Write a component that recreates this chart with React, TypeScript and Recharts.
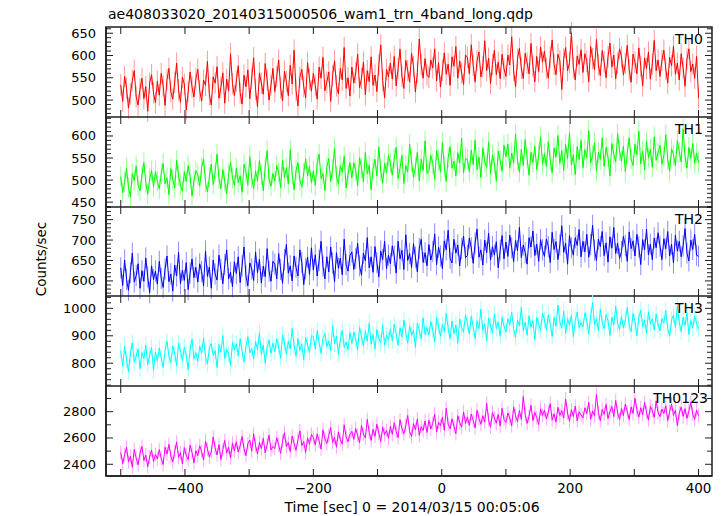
import React from 'react';
import { LineChart, Line, XAxis, YAxis, ErrorBar } from 'recharts';

// light curves, one bin every 3 s starting at t = -500 s
const TIME_START = -500;
const TIME_STEP = 3;

const TH0 = [
  534, 497, 553, 527, 482, 514, 544, 566, 507, 489, 525, 549, 503, 530, 475, 538, 557, 516, 494, 542,
  511, 560, 532, 488, 546, 571, 519, 502, 540, 583, 523, 495, 551, 536, 478, 518, 563, 529, 507, 548,
  569, 521, 498, 545, 533, 587, 512, 489, 552, 538, 575, 504, 529, 561, 493, 547, 520, 604, 537, 510,
  542, 577, 516, 491, 556, 530, 568, 503, 549, 595, 524, 485, 561, 538, 513, 582, 546, 500, 533, 571,
  519, 553, 590, 527, 498, 565, 541, 510, 578, 536, 612, 522, 487, 551, 569, 530, 505, 584, 547, 520,
  560, 533, 502, 574, 549, 596, 521, 540, 563, 497, 555, 588, 532, 514, 571, 545, 618, 526, 550, 509,
  574, 538, 561, 603, 527, 549, 585, 512, 566, 541, 597, 533, 556, 519, 578, 624, 544, 505, 569, 552,
  583, 547, 598, 532, 571, 614, 553, 526, 589, 566, 540, 605, 575, 518, 562, 637, 579, 549, 593, 556,
  551, 590, 572, 615, 543, 584, 529, 567, 606, 558, 581, 533, 597, 576, 620, 549, 588, 561, 535, 601,
  596, 559, 624, 578, 541, 589, 608, 552, 575, 633, 566, 594, 537, 580, 612, 557, 585, 548, 603, 570,
  553, 601, 579, 642, 567, 530, 592, 616, 571, 548, 605, 583, 559, 627, 576, 541, 598, 564, 619, 585,
  610, 571, 549, 596, 635, 580, 557, 603, 588, 524, 592, 618, 566, 584, 651, 573, 545, 599, 580, 613,
  562, 604, 587, 541, 620, 593, 568, 636, 579, 555, 611, 586, 550, 597, 628, 574, 601, 548, 583, 615,
  597, 556, 582, 623, 568, 540, 603, 585, 559, 617, 576, 532, 594, 571, 608, 547, 581, 634, 566, 590,
  553, 589, 612, 570, 538, 596, 577, 621, 558, 583, 545, 604, 572, 531, 592, 615, 564, 581, 549, 598,
  505,
];

const TH1 = [
  508, 471, 496, 527, 483, 462, 515, 499, 532, 487, 476, 511, 540, 494, 468, 503, 522, 485, 519, 497,
  480, 514, 538, 492, 505, 467, 526, 501, 482, 545, 510, 489, 475, 519, 497, 533, 508, 464, 498, 521,
  512, 486, 529, 548, 495, 473, 507, 536, 490, 518, 559, 502, 481, 524, 497, 469, 513, 541, 505, 488,
  527, 494, 510, 472, 536, 518, 489, 553, 505, 480, 521, 499, 544, 512, 476, 530, 567, 501, 486, 515,
  498, 533, 517, 482, 545, 506, 528, 491, 569, 513, 478, 522, 539, 500, 484, 516, 548, 509, 531, 494,
  521, 488, 537, 559, 503, 515, 476, 530, 549, 497, 524, 572, 508, 490, 533, 518, 554, 482, 512, 540,
  505, 539, 522, 487, 551, 528, 496, 563, 514, 534, 478, 526, 547, 509, 575, 521, 493, 538, 517, 556,
  538, 511, 549, 574, 503, 527, 556, 492, 533, 518, 581, 541, 506, 529, 563, 498, 547, 522, 589, 515,
  521, 556, 537, 502, 568, 544, 518, 585, 530, 497, 551, 576, 527, 543, 509, 562, 538, 595, 516, 549,
  547, 519, 568, 535, 591, 524, 552, 506, 573, 541, 529, 587, 514, 557, 538, 498, 566, 545, 520, 579,
  553, 582, 527, 561, 539, 604, 546, 518, 570, 533, 592, 549, 511, 563, 540, 576, 524, 557, 598, 536,
  560, 531, 587, 545, 516, 573, 552, 601, 538, 567, 522, 581, 549, 607, 534, 558, 512, 576, 547, 590,
  528, 569, 551, 612, 539, 556, 585, 520, 563, 547, 596, 531, 574, 552, 509, 583, 558, 541, 605, 566,
  543, 577, 519, 561, 596, 548, 533, 582, 557, 611, 537, 566, 524, 588, 551, 570, 529, 598, 545, 562,
  579, 536, 555, 603, 547, 520, 571, 558, 532, 590, 564, 541, 616, 553, 527, 574, 549, 583, 538, 561,
  540,
];

const TH2 = [
  632, 589, 651, 604, 577, 620, 668, 597, 613, 642, 582, 625, 599, 656, 610, 571, 637, 603, 624, 592,
  648, 606, 584, 629, 661, 598, 617, 575, 639, 612, 670, 593, 626, 601, 645, 579, 619, 654, 608, 633,
  597, 642, 623, 588, 673, 611, 634, 582, 651, 617, 602, 663, 628, 593, 640, 676, 605, 621, 586, 647,
  618, 659, 596, 637, 683, 612, 588, 644, 629, 601, 671, 620, 653, 595, 636, 610, 679, 624, 599, 648,
  641, 605, 667, 628, 594, 652, 689, 619, 637, 600, 661, 633, 612, 676, 645, 591, 630, 658, 616, 681,
  627, 664, 612, 650, 697, 636, 605, 659, 622, 683, 644, 598, 669, 631, 656, 615, 702, 640, 624, 662,
  671, 628, 655, 692, 637, 614, 668, 649, 706, 632, 659, 621, 684, 645, 610, 673, 652, 697, 630, 663,
  642, 686, 661, 619, 697, 654, 675, 628, 713, 650, 667, 633, 691, 658, 622, 680, 702, 645, 669, 637,
  689, 651, 672, 715, 640, 683, 661, 630, 698, 676, 724, 655, 644, 702, 668, 688, 637, 679, 710, 657,
  662, 705, 681, 643, 693, 727, 658, 676, 639, 700, 669, 717, 651, 684, 663, 696, 632, 675, 711, 654,
  695, 660, 712, 681, 647, 699, 674, 731, 657, 688, 669, 641, 706, 683, 722, 662, 690, 648, 701, 676,
  660, 703, 684, 645, 719, 677, 696, 652, 688, 735, 670, 692, 641, 711, 681, 663, 706, 687, 726, 659,
  697, 671, 714, 658, 689, 736, 675, 650, 702, 684, 721, 662, 693, 646, 708, 680, 731, 667, 692, 655,
  672, 709, 686, 648, 720, 679, 698, 661, 714, 683, 640, 701, 676, 727, 664, 690, 652, 705, 681, 718,
  685, 652, 703, 679, 721, 661, 690, 644, 712, 673, 697, 659, 686, 728, 668, 649, 700, 677, 714, 663,
  660,
];

const TH3 = [
  845, 788, 861, 812, 769, 833, 874, 803, 826, 852, 780, 839, 817, 866, 795, 828, 857, 774, 841, 809,
  856, 819, 784, 847, 880, 826, 801, 862, 835, 791, 873, 844, 810, 858, 829, 777, 851, 888, 816, 839,
  807, 862, 838, 893, 821, 797, 855, 872, 829, 846, 784, 868, 840, 901, 817, 852, 833, 792, 876, 849,
  871, 826, 889, 843, 805, 862, 897, 838, 854, 815, 880, 849, 912, 831, 866, 800, 859, 885, 836, 873,
  842, 889, 859, 818, 904, 874, 833, 881, 852, 927, 863, 826, 890, 847, 871, 812, 895, 866, 839, 901,
  897, 853, 918, 874, 836, 891, 909, 860, 882, 845, 935, 871, 899, 832, 886, 920, 858, 877, 849, 912,
  872, 914, 887, 849, 931, 896, 862, 918, 880, 946, 869, 905, 851, 923, 890, 874, 938, 866, 903, 884,
  925, 881, 943, 907, 866, 929, 895, 958, 912, 873, 936, 901, 920, 858, 947, 918, 889, 965, 905, 930,
  903, 952, 921, 879, 966, 934, 898, 941, 915, 982, 927, 889, 954, 908, 940, 872, 961, 930, 913, 975,
  948, 906, 971, 933, 889, 955, 927, 997, 919, 942, 881, 964, 937, 910, 979, 926, 951, 898, 968, 935,
  914, 962, 940, 987, 925, 893, 957, 936, 1004, 918, 949, 902, 973, 931, 955, 887, 966, 942, 920, 983,
  958, 921, 976, 944, 897, 967, 935, 1012, 951, 928, 990, 909, 962, 939, 974, 896, 955, 986, 930, 948,
  932, 984, 953, 908, 971, 1021, 940, 962, 919, 997, 948, 926, 977, 955, 901, 968, 939, 1008, 945, 923,
  971, 928, 959, 1003, 937, 915, 982, 951, 899, 966, 993, 934, 957, 910, 988, 944, 962, 921, 979, 940,
  918, 963, 947, 992, 926, 899, 958, 975, 931, 1010, 949, 915, 967, 938, 984, 905, 956, 929, 972, 944,
  925,
];

const TH0123 = [
  2490, 2405, 2472, 2530, 2418, 2461, 2378, 2512, 2447, 2396, 2485, 2536, 2429, 2470, 2382, 2455, 2508, 2421, 2476, 2440,
  2512, 2445, 2398, 2530, 2478, 2551, 2463, 2417, 2496, 2570, 2452, 2488, 2404, 2527, 2469, 2435, 2545, 2490, 2411, 2503,
  2466, 2540, 2498, 2432, 2575, 2517, 2455, 2493, 2608, 2524, 2471, 2550, 2436, 2512, 2581, 2485, 2530, 2448, 2562, 2501,
  2571, 2493, 2540, 2612, 2518, 2466, 2557, 2585, 2499, 2632, 2543, 2478, 2566, 2520, 2598, 2487, 2550, 2621, 2509, 2536,
  2520, 2602, 2548, 2483, 2577, 2640, 2535, 2566, 2497, 2615, 2559, 2506, 2588, 2654, 2541, 2573, 2490, 2601, 2552, 2628,
  2603, 2547, 2631, 2575, 2516, 2662, 2595, 2558, 2619, 2680, 2566, 2604, 2530, 2646, 2588, 2554, 2700, 2611, 2572, 2627,
  2650, 2589, 2672, 2618, 2564, 2697, 2630, 2601, 2741, 2643, 2581, 2666, 2612, 2705, 2637, 2574, 2683, 2625, 2659, 2598,
  2688, 2627, 2716, 2650, 2603, 2738, 2671, 2632, 2694, 2772, 2648, 2611, 2709, 2663, 2745, 2620, 2686, 2657, 2729, 2641,
  2735, 2668, 2712, 2781, 2645, 2720, 2693, 2758, 2659, 2826, 2704, 2671, 2745, 2690, 2633, 2769, 2716, 2682, 2798, 2710,
  2760, 2695, 2782, 2733, 2676, 2811, 2747, 2704, 2769, 2721, 2863, 2738, 2682, 2794, 2752, 2712, 2779, 2690, 2826, 2741,
  2717, 2790, 2752, 2693, 2836, 2768, 2725, 2808, 2741, 2915, 2779, 2711, 2766, 2849, 2732, 2795, 2754, 2702, 2821, 2770,
  2812, 2745, 2797, 2861, 2736, 2784, 2720, 2833, 2771, 2808, 2752, 2896, 2789, 2727, 2815, 2763, 2842, 2731, 2799, 2776,
  2753, 2829, 2785, 2871, 2742, 2806, 2768, 2932, 2794, 2730, 2817, 2779, 2855, 2748, 2800, 2839, 2762, 2885, 2791, 2741,
  2824, 2771, 2858, 2799, 2740, 2836, 2787, 2902, 2812, 2758, 2829, 2777, 2870, 2795, 2736, 2842, 2806, 2757, 2881, 2793,
  2762, 2819, 2786, 2845, 2731, 2800, 2858, 2772, 2811, 2695, 2790, 2835, 2764, 2823, 2749, 2806, 2871, 2781, 2742, 2812,
  2770,
];

// 1-sigma error of one bin, counts/sec
const ERR_TH0 = 24;
const ERR_TH1 = 23;
const ERR_TH2 = 26;
const ERR_TH3 = 30;
const ERR_TH0123 = 52;

const X_TICKS = [-500, -400, -300, -200, -100, 0, 100, 200, 300, 400];

const FONT = '"DejaVu Sans", "Liberation Sans", Arial, sans-serif';
const AXIS = '#1e1e1e';
const LEFT = 106;
const PLOT_W = 606;

const panels = [
  { label: 'TH0', values: TH0, err: ERR_TH0, color: '#ff0000', pale: '#ff9a9a', domain: [462, 664], major: 50, minor: 10, top: 27, height: 90, labelX: 703 },
  { label: 'TH1', values: TH1, err: ERR_TH1, color: '#00ff00', pale: '#9aff9a', domain: [439, 643], major: 50, minor: 10, top: 117, height: 90, labelX: 703 },
  { label: 'TH2', values: TH2, err: ERR_TH2, color: '#0000ff', pale: '#8c8cff', domain: [563, 781], major: 50, minor: 10, top: 207, height: 89, labelX: 703 },
  { label: 'TH3', values: TH3, err: ERR_TH3, color: '#00ffff', pale: '#a6ffff', domain: [717, 1045], major: 100, minor: 20, top: 296, height: 90, labelX: 703 },
  { label: 'TH0123', values: TH0123, err: ERR_TH0123, color: '#ff00ff', pale: '#ffa6ff', domain: [2311, 2995], major: 200, minor: 100, top: 386, height: 90, labelX: 708 },
];

const yTicks = (domain: number[], step: number) => {
  const out: number[] = [];
  for (let v = Math.ceil(domain[0] / step) * step; v <= domain[1]; v += step) out.push(v);
  return out;
};

const fmt = (v: number) => (v < 0 ? '\u2212' + Math.abs(v) : String(v));

const makeYTick = (major: number) => (props: any) => {
  const { x, y, payload } = props;
  const isMajor = payload.value % major === 0;
  const len = isMajor ? 7 : 5;
  return (
    <g>
      <line x1={x} x2={x + len} y1={y} y2={y} stroke={AXIS} strokeWidth={1} />
      <line x1={x + PLOT_W} x2={x + PLOT_W - len} y1={y} y2={y} stroke={AXIS} strokeWidth={1} />
      {isMajor && (
        <text x={x - 10} y={y + 4.5} textAnchor="end" fontSize={13} fontFamily={FONT} fill="#000000">
          {payload.value}
        </text>
      )}
    </g>
  );
};

const makeXTick = (plotH: number, showLabels: boolean) => (props: any) => {
  const { x, y, payload } = props;
  const v = payload.value;
  return (
    <g>
      <line x1={x} x2={x} y1={y} y2={y - 7} stroke={AXIS} strokeWidth={1} />
      <line x1={x} x2={x} y1={y - plotH} y2={y - plotH + 7} stroke={AXIS} strokeWidth={1} />
      {showLabels && v % 200 === 0 && (
        <text x={x} y={y + 17} textAnchor="middle" fontSize={13.5} fontFamily={FONT} fill="#000000">
          {fmt(v)}
        </text>
      )}
    </g>
  );
};

const Panel = ({ p, last }: { p: (typeof panels)[number]; last: boolean }) => {
  const data = p.values.map((v, i) => ({ t: TIME_START + i * TIME_STEP, v, err: p.err }));
  const axisH = last ? 30 : 1;
  return (
    <div style={{ position: 'absolute', left: 0, top: p.top }}>
      <LineChart width={724} height={p.height + axisH} data={data} margin={{ top: 0, right: 724 - LEFT - PLOT_W, bottom: 0, left: 0 }}>
        <XAxis
          dataKey="t"
          type="number"
          domain={[-523, 421]}
          ticks={X_TICKS}
          interval={0}
          allowDataOverflow
          height={axisH}
          tickSize={0}
          tickMargin={0}
          tickLine={false}
          axisLine={{ stroke: AXIS, strokeWidth: 1.5 }}
          tick={makeXTick(p.height, last)}
        />
        <YAxis
          type="number"
          domain={p.domain}
          ticks={yTicks(p.domain, p.minor)}
          interval={0}
          allowDataOverflow
          width={LEFT}
          tickSize={0}
          tickMargin={0}
          tickLine={false}
          axisLine={{ stroke: AXIS, strokeWidth: 1.5 }}
          tick={makeYTick(p.major)}
        />
        {/* pale error bars first, the light curve itself on top */}
        <Line dataKey="v" stroke="none" dot={false} isAnimationActive={false}>
          <ErrorBar dataKey="err" width={0} stroke={p.pale} strokeWidth={1} isAnimationActive={false} />
        </Line>
        <Line dataKey="v" type="linear" stroke={p.color} strokeWidth={1} dot={false} isAnimationActive={false} />
      </LineChart>
    </div>
  );
};

export default function App() {
  return (
    <div style={{ position: 'absolute', left: 0, top: 0, width: 724, height: 516, background: '#ffffff', fontFamily: FONT }}>
      <style>{'.recharts-surface { overflow: visible; }'}</style>
      {panels.map((p, i) => (
        <Panel key={p.label} p={p} last={i === panels.length - 1} />
      ))}
      <svg width={724} height={516} style={{ position: 'absolute', left: 0, top: 0, pointerEvents: 'none' }}>
        <rect x={LEFT} y={27} width={PLOT_W} height={449} fill="none" stroke={AXIS} strokeWidth={1.5} />
        <text x={108} y={19} fontSize={14} fontFamily={FONT} fill="#000000">
          ae408033020_20140315000506_wam1_trn_4band_long.qdp
        </text>
        {panels.map((p) => (
          <text key={p.label} x={p.labelX} y={p.top + 16.5} textAnchor="end" fontSize={14} fontFamily={FONT} fill="#000000">
            {p.label}
          </text>
        ))}
        <text x={412} y={512} textAnchor="middle" fontSize={14} fontFamily={FONT} fill="#000000">
          Time [sec] 0 = 2014/03/15 00:05:06
        </text>
        <text x={46} y={259} textAnchor="middle" fontSize={13.5} fontFamily={FONT} fill="#000000" transform="rotate(-90 46 259)">
          Counts/sec
        </text>
      </svg>
    </div>
  );
}
